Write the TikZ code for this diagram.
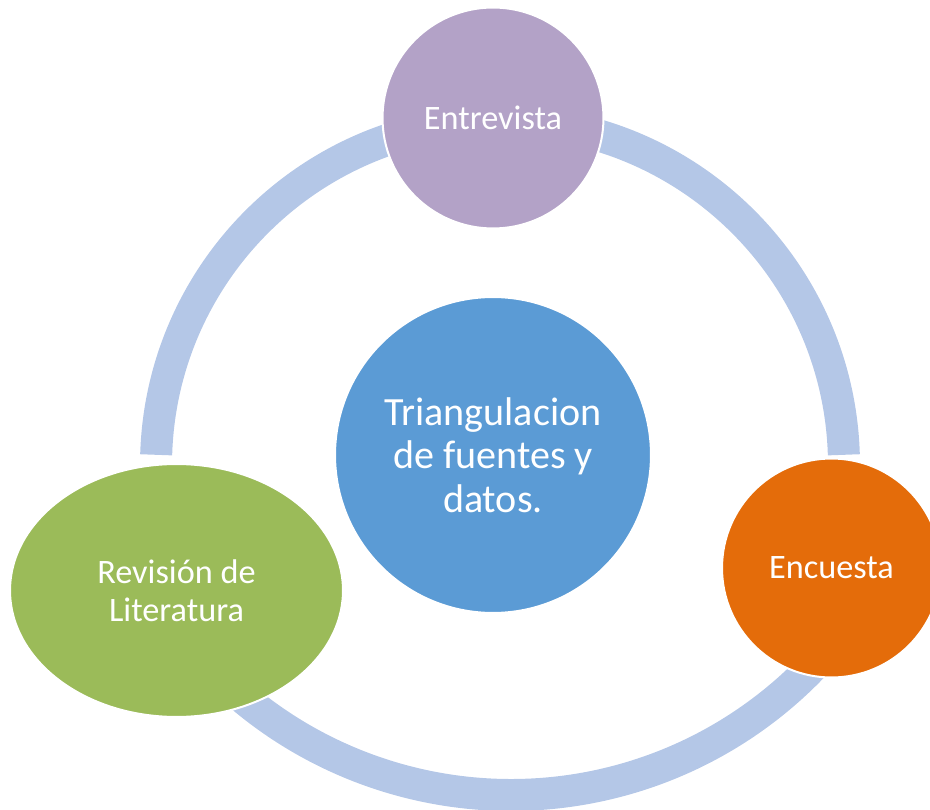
\documentclass[tikz,border=0pt]{standalone}
\usepackage{fontspec}
\setmainfont{Carlito}
\usetikzlibrary{shapes.geometric}
\definecolor{ringc}{HTML}{B4C7E7}
\definecolor{entc}{HTML}{B3A2C7}
\definecolor{cenc}{HTML}{5B9BD5}
\definecolor{encc}{HTML}{E46C0A}
\definecolor{revc}{HTML}{9BBB59}
\begin{document}
\begin{tikzpicture}[x=0.02cm,y=0.02cm,
  ring/.style={draw=ringc,line width=0.64cm,line cap=butt},
  bub/.style={circle,draw=white,line width=0.04cm,inner sep=0pt,text=white,align=center},
  lbl/.style={font=\fontsize{19.5}{21.6}\selectfont}]
\useasboundingbox (0,0) rectangle (930,809);
\coordinate (topc) at (500,344);
\coordinate (botc) at (511,432);
\draw[ring] ([shift={(1.7:344)}]topc) arc[start angle=1.7,end angle=178.3,radius=344];
\draw[ring] ([shift={(225:418)}]botc) arc[start angle=225,end angle=320,radius=418];
\node[bub,lbl,fill=entc,minimum size=4.42cm] (ent) at (493,691) {Entrevista};
\node[bub,fill=cenc,minimum size=6.32cm,font=\fontsize{22.8}{24.9}\selectfont] (cen) at (493,354) {Triangulacion\\de fuentes y\\datos.};
\node[bub,lbl,fill=encc,minimum size=4.38cm] (enc) at (831.5,241) {Encuesta};
\node[bub,lbl,ellipse,fill=revc,minimum width=6.66cm,minimum height=5.06cm] (rev) at (176.5,218.5) {Revisión de\\Literatura};
\end{tikzpicture}
\end{document}
